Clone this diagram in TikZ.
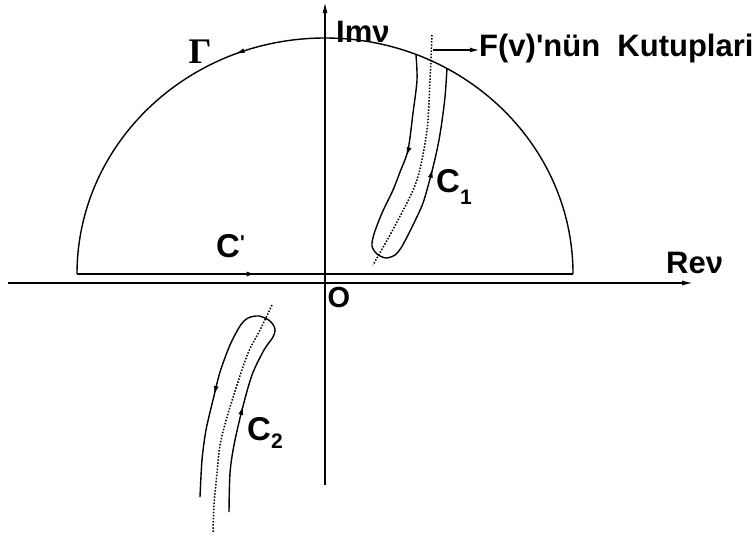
\documentclass[tikz,border=0pt]{standalone}
\usepackage{fontspec}
\setmainfont{Liberation Sans}
\newfontfamily\gammafont{Liberation Serif}
\usetikzlibrary{arrows.meta, decorations.markings}

\tikzset{
  axis/.style={line width=1.4pt, -{Latex[length=11pt, width=5pt]}},
  contour/.style={line width=1.4pt},
  poleline/.style={line width=1.5pt, dash pattern=on 1.5pt off 1.6pt},
  lbl/.style={inner sep=0pt, font=\fontsize{31}{31}\selectfont\bfseries},
  clbl/.style={inner sep=0pt, font=\fontsize{33}{33}\selectfont\bfseries},
  arrowat/.style={postaction=decorate, decoration={markings,
      mark=at position #1 with {\arrow{Latex[length=9pt, width=5pt]}}}},
  twoarrows/.style 2 args={postaction=decorate, decoration={markings,
      mark=at position #1 with {\arrow{Latex[length=9pt, width=5pt]}},
      mark=at position #2 with {\arrow{Latex[length=9pt, width=5pt]}}}},
}

\begin{document}
\begin{tikzpicture}[x=1pt, y=-1pt]
\useasboundingbox (0,0) rectangle (754,539);

% axes
\coordinate (xstart) at (8,283);
\coordinate (xend) at (693,283);
\coordinate (ystart) at (325,485);
\coordinate (yend) at (325,2);
\draw[axis] (xstart) -- (xend);
\draw[axis] (ystart) -- (yend);

% C' and Gamma
\coordinate (cl) at (77,274);
\coordinate (cr) at (573,274);
\draw[contour, arrowat=0.36] (cl) -- (cr);
\draw[contour, arrowat=0.62] (cr) arc[start angle=0, end angle=-180, x radius=248, y radius=236];

% C1 round the upper poles
\draw[contour, twoarrows={0.24}{0.76}] plot[smooth] coordinates {(416,55) (417,80) (413,113) (408,150)
  (400,172) (393,190) (382,213) (374,234) (372,246) (377,254) (386,258) (395,255) (401,248)
  (407,237) (413,225) (423,203) (431,175) (437,150) (441,128) (445,97) (447,68)};
\draw[poleline] plot[smooth] coordinates {(432,35) (430,80) (427,130) (417,180) (397,222) (373,265)};

% C2 round the lower poles
\draw[contour, twoarrows={0.26}{0.75}] plot[smooth] coordinates {(229,512) (230,473) (234,445)
  (242,410) (252,375) (264,350) (273,337) (275,329) (270,321) (259,316) (248,318) (240,326)
  (230,345) (220,372) (213,400) (206,430) (202,460) (200,497)};
\draw[poleline] plot[smooth] coordinates {(272,305) (260,330) (248,353) (237,385) (227,417)
  (220,445) (217,473) (214,505) (213,533)};

% labels
\node[lbl, anchor=base west] (imag) at (336,42) {Imν};
\node[lbl, anchor=base west] (real) at (666,273) {Reν};
\node[lbl, font=\fontsize{29}{29}\selectfont\bfseries] (origin) at (339,298) {O};
\node[inner sep=0pt, font=\fontsize{36}{36}\gammafont\bfseries] (gamma) at (200,52) {Γ};
\node[clbl, anchor=base west] (cprime) at (216,257) {C\raisebox{8pt}{\fontsize{20}{20}\selectfont\textquotesingle}};
\node[clbl, anchor=base west] (cone) at (436,192) {C\raisebox{-12pt}{\fontsize{21}{21}\selectfont 1}};
\node[clbl, anchor=base west] (ctwo) at (247,440) {C\raisebox{-8pt}{\fontsize{21}{21}\selectfont 2}};

\node[lbl, anchor=west] (poles) at (479,48) {F(v)\textquotesingle nün\ \ Kutuplari};
\coordinate (polefoot) at (433,50);
\draw[line width=1.1pt, -{Latex[length=9pt, width=5pt]}] (polefoot) -- (poles.west |- polefoot);
\end{tikzpicture}
\end{document}
